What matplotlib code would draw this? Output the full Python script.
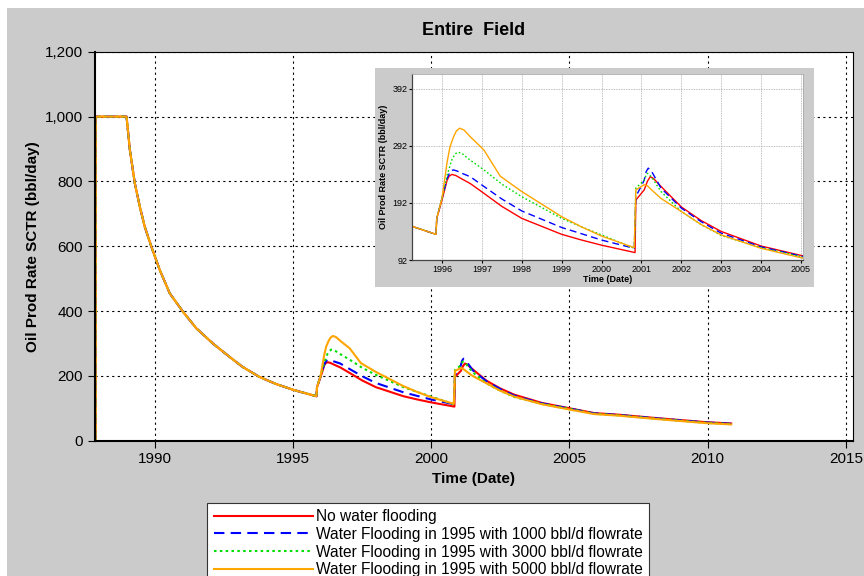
import numpy as np
import matplotlib
matplotlib.use("Agg")
import matplotlib.pyplot as plt
from matplotlib.patches import Rectangle
from matplotlib.ticker import FuncFormatter

plt.rcParams['font.family'] = ['Liberation Sans', 'DejaVu Sans']

# shared history before water flooding (decimal years, bbl/day)
base_t = [1987.86, 1987.861, 1988.98, 1989.1, 1989.28, 1989.46, 1989.64, 1989.88, 1990.18,
          1990.54, 1991.02, 1991.5, 1992.1, 1992.7, 1993.17, 1993.78, 1994.38, 1994.97,
          1995.25, 1995.85]
base_q = [0, 1000, 1000, 897, 794, 722, 660, 598, 527, 455, 398, 347, 300, 259, 228, 197,
          175, 158, 151, 137]

tail_t = [2002.0, 2002.5, 2003.0, 2004.0, 2005.0, 2005.9, 2006.8, 2008.1, 2009.95, 2010.85]

red_t = [1995.87, 1996.0, 1996.13, 1996.18, 1996.25, 1996.35, 1996.5, 1996.71, 1997.05,
         1997.5, 1998.0, 1999.0, 1999.5, 2000.0, 2000.84, 2000.86, 2001.07, 2001.15,
         2001.22, 2001.3, 2001.49]
red_q = [165, 197, 232, 239, 242, 240, 234, 226, 209, 186, 165, 137, 127, 118, 105, 197,
         215, 230, 238, 235, 221]
red_tail = [185, 161, 142, 116.5, 100, 85, 80, 70, 57, 53]

blue_t = [1995.87, 1996.0, 1996.13, 1996.2, 1996.28, 1996.38, 1996.5, 1996.71, 1997.05,
          1997.5, 1998.0, 1999.0, 1999.5, 2000.0, 2000.82, 2000.86, 2001.07, 2001.12,
          2001.17, 2001.25, 2001.49]
blue_q = [165, 200, 235, 246, 250, 248, 244, 238, 221, 199, 178, 149, 138, 127, 112.5, 203,
          232, 247, 253, 248, 218]
blue_tail = [183, 159, 139, 115, 99, 84, 79, 69, 56, 52]

green_t = [1995.87, 1996.0, 1996.13, 1996.25, 1996.32, 1996.39, 1996.5, 1996.6, 1996.71,
           1997.05, 1997.5, 1998.0, 1999.0, 1999.5, 2000.0, 2000.82, 2000.86, 2001.07,
           2001.1, 2001.15, 2001.25, 2001.49]
green_q = [165, 200, 241, 268, 277, 281, 279, 273, 267, 250, 225, 203, 165, 150, 136, 112.5,
           218, 232, 238, 244, 238, 212]
green_tail = [177, 154, 135, 113.6, 98, 83, 78, 68, 55, 51]

orange_t = [1995.87, 1996.0, 1996.13, 1996.2, 1996.29, 1996.36, 1996.44, 1996.55, 1996.71,
            1997.05, 1997.46, 1998.0, 1999.0, 1999.5, 2000.0, 2000.82, 2000.86, 2001.07,
            2001.15, 2001.3, 2001.49]
orange_q = [165, 200, 264, 290, 308, 318, 323, 320, 308, 285, 239, 212, 168, 150, 134, 113.6,
            215, 224, 222, 212, 200]
orange_tail = [177, 154, 136, 112.5, 96, 82, 77, 67, 54, 50]

labels = ["No water flooding",
          "Water Flooding in 1995 with 1000 bbl/d flowrate",
          "Water Flooding in 1995 with 3000 bbl/d flowrate",
          "Water Flooding in 1995 with 5000 bbl/d flowrate"]

series = [
    (red_t, red_q, red_tail, '#ff0000', '-'),
    (blue_t, blue_q, blue_tail, '#0000ff', (0, (5, 3))),
    (green_t, green_q, green_tail, '#00dd00', (0, (1.2, 1.6))),
    (orange_t, orange_q, orange_tail, '#ffa500', '-'),
]

gray = '#cbcbcb'
fig = plt.figure(figsize=(8.64, 5.76), dpi=100, facecolor='white')
fig.add_artist(Rectangle((0.008, 0), 0.992, 0.986, transform=fig.transFigure,
                         facecolor=gray, edgecolor='none', zorder=-10))

ax = fig.add_axes([0.110, 0.235, 0.877, 0.675])
ax.set_facecolor('white')
for (t, q, tail, c, ls), lab in zip(series, labels):
    x = base_t + t + tail_t
    y = base_q + q + tail
    ax.plot(x, y, color=c, linestyle=ls, linewidth=1.5, label=lab)

ax.set_xlim(1987.84, 2015.25)
ax.set_ylim(0, 1200)
ax.set_xticks([1990, 1995, 2000, 2005, 2010, 2015])
ax.set_yticks(range(0, 1201, 200))
ax.yaxis.set_major_formatter(FuncFormatter(lambda v, p: f"{int(v):,}"))
ax.tick_params(labelsize=11, length=5, direction='out')
ax.grid(True, color='black', linestyle=(0, (2, 3)), linewidth=0.8)
ax.set_xlabel("Time (Date)", fontsize=11, fontweight='bold')
ax.set_ylabel("Oil Prod Rate SCTR (bbl/day)", fontsize=11, fontweight='bold')
ax.set_title("Entire  Field", fontsize=13, fontweight='bold', pad=12)
for s in ['top', 'right']:
    ax.spines[s].set_linewidth(0.8)
for s in ['left', 'bottom']:
    ax.spines[s].set_linewidth(1.5)

leg = fig.legend(loc='upper left', bbox_to_anchor=(0.24, 0.127), fontsize=11.2,
                 handlelength=6.4, handletextpad=0.2, labelspacing=0.18,
                 borderpad=0.4, borderaxespad=0, fancybox=False, framealpha=1,
                 edgecolor='#333333')
leg.get_frame().set_linewidth(0.8)

# inset
fig.add_artist(Rectangle((0.434, 0.502), 0.508, 0.380, transform=fig.transFigure,
                         facecolor=gray, edgecolor='none', zorder=3))
axi = fig.add_axes([0.4769, 0.5486, 0.4525, 0.3229], zorder=4)
axi.set_facecolor('white')
for t, q, tail, c, ls in series:
    x = base_t + t + tail_t
    y = base_q + q + tail
    axi.plot(x, y, color=c, linestyle=ls, linewidth=1.0)
axi.set_xlim(1995.25, 2005.05)
axi.set_ylim(92, 418)
axi.set_xticks(range(1996, 2006))
axi.set_yticks([92, 192, 292, 392])
axi.tick_params(labelsize=6.5, length=2, direction='out', pad=1.5)
axi.grid(True, color='#aaaaaa', linestyle=(0, (1, 1)), linewidth=0.6)
axi.set_xlabel("Time (Date)", fontsize=6.5, fontweight='bold', labelpad=1)
axi.set_ylabel("Oil Prod Rate SCTR (bbl/day)", fontsize=6.5, fontweight='bold', labelpad=3)
for s in ['top', 'right']:
    axi.spines[s].set_color('#aaaaaa')
    axi.spines[s].set_linewidth(0.6)
for s in ['left', 'bottom']:
    axi.spines[s].set_color('#444444')
    axi.spines[s].set_linewidth(0.9)

fig.savefig("out.png", dpi=100, facecolor=fig.get_facecolor())
